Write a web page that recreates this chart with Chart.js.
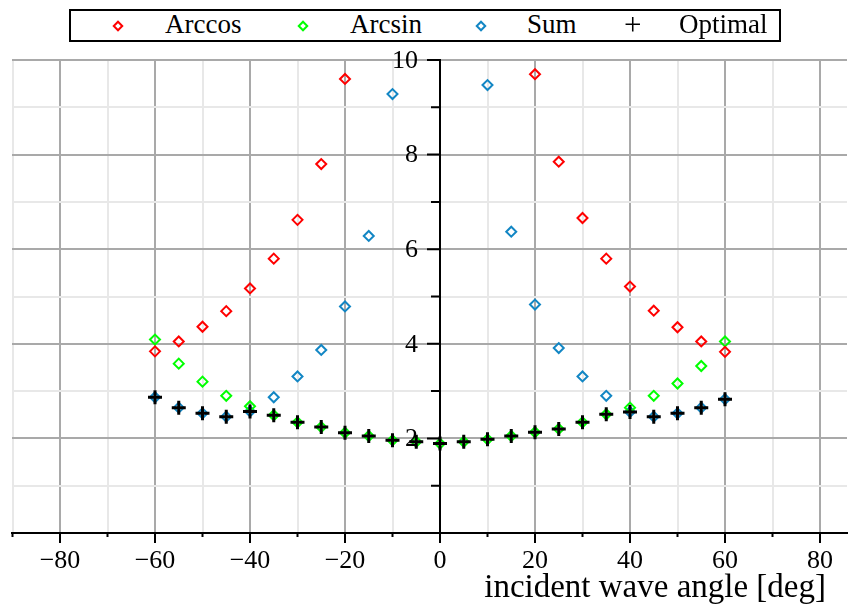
<!DOCTYPE html>
<html>
<head>
<meta charset="utf-8">
<script src="https://cdn.jsdelivr.net/npm/chart.js@4.4.0/dist/chart.umd.min.js"></script>
<style>
	body { margin: 0; background: #fff; }
	#wrap { position: relative; width: 857px; height: 606px; font-family: "Liberation Serif", serif; }
	#grafico { position: absolute; left: 0; top: 0; }
	.leyenda { position: absolute; left: 69px; top: 9px; width: 712px; height: 33px; box-sizing: border-box; border: 2px solid #000; background: #fff; }
	.item { position: absolute; top: 11px; font-size: 27px; line-height: 27px; color: #000; white-space: nowrap; }
	.rombo { position: absolute; width: 4px; height: 4px; border: 2px solid; transform: rotate(45deg); }
</style>
</head>
<body>
<div id="wrap">
	<canvas id="grafico" width="857" height="606"></canvas>
	<div class="leyenda"></div>
	<span class="rombo" style="left:114px; top:22px; border-color:#ff0000"></span>
	<span class="item" style="left:165px">Arccos</span>
	<span class="rombo" style="left:299px; top:22px; border-color:#00ff00"></span>
	<span class="item" style="left:350px">Arcsin</span>
	<span class="rombo" style="left:477px; top:22px; border-color:#1286c4"></span>
	<span class="item" style="left:527px">Sum</span>
	<span class="item" style="left:624px; top:9px; font-size:31px; line-height:31px">+</span>
	<span class="item" style="left:679px">Optimal</span>
</div>
<script>
// angles in degrees, one sample every 5
const angulos = [-60, -55, -50, -45, -40, -35, -30, -25, -20, -15, -10, -5, 0, 5, 10, 15, 20, 25, 30, 35, 40, 45, 50, 55, 60];

const arccos = [3.84, 4.05, 4.36, 4.69, 5.17, 5.80, 6.62, 7.80, 9.60, null, null, null, null, null, null, null, 9.70, 7.85, 6.66, 5.80, 5.21, 4.70, 4.35, 4.05, 3.83];
const arcsin = [4.09, 3.58, 3.20, 2.90, 2.68, 2.49, 2.34, 2.24, 2.12, 2.05, 1.96, 1.93, 1.89, 1.93, 1.98, 2.05, 2.13, 2.20, 2.34, 2.51, 2.65, 2.90, 3.16, 3.53, 4.05];
const suma = [2.87, 2.65, 2.53, 2.46, 2.57, 2.87, 3.31, 3.87, 4.79, 6.28, 9.28, null, null, null, 9.47, 6.37, 4.83, 3.91, 3.31, 2.90, 2.56, 2.46, 2.53, 2.65, 2.83];
const optimo = [2.87, 2.65, 2.53, 2.46, 2.57, 2.49, 2.34, 2.24, 2.12, 2.05, 1.96, 1.93, 1.89, 1.93, 1.98, 2.05, 2.13, 2.20, 2.34, 2.51, 2.56, 2.46, 2.53, 2.65, 2.83];

const etiquetaX = "incident wave angle [deg]";

// where the zero angle sits on the page and how wide one degree is
const ceroX = 440;
const pxGrado = 4.75;

function puntos(valores){
	return angulos.map((a, i) => ({x: a, y: valores[i]}));
}

function rombos(label, valores, color){
	return {
		label: label,
		data: puntos(valores),
		pointStyle: 'rectRot',
		pointRadius: 5,
		pointBorderWidth: 2,
		borderColor: color,
		backgroundColor: 'rgba(0,0,0,0)',
		showLine: false,
		order: 1
	};
}

// tick marks of two lengths, y labels beside the centred axis, axis title
const marcas = {
	id: 'marcas',
	afterDraw(chart){
		const ctx = chart.ctx;
		const x = chart.scales.x;
		const y = chart.scales.y;
		const x0 = x.getPixelForValue(0);
		const base = chart.chartArea.bottom;
		ctx.save();
		ctx.strokeStyle = '#000';
		ctx.lineWidth = 2;
		ctx.beginPath();
		y.ticks.forEach(t => {
			if (t.value <= 0) return;
			const py = y.getPixelForValue(t.value);
			const largo = (t.value % 2 === 0) ? 13 : 9;
			ctx.moveTo(x0 - largo, py);
			ctx.lineTo(x0, py);
		});
		x.ticks.forEach(t => {
			const px = x.getPixelForValue(t.value);
			const largo = (t.value % 20 === 0) ? 10 : 4;
			ctx.moveTo(px, base);
			ctx.lineTo(px, base + largo);
		});
		ctx.stroke();

		ctx.fillStyle = '#000';
		ctx.font = '26px "Liberation Serif"';
		ctx.textAlign = 'right';
		ctx.textBaseline = 'middle';
		y.ticks.forEach(t => {
			if (t.value <= 0 || t.value % 2 !== 0) return;
			ctx.fillText(String(t.value), x0 - 22, y.getPixelForValue(t.value) + 1);
		});

		ctx.font = '33px "Liberation Serif"';
		ctx.textBaseline = 'alphabetic';
		ctx.fillText(etiquetaX, 826, 597);
		ctx.restore();
	}
};

Chart.defaults.font.family = '"Liberation Serif", serif';
Chart.defaults.color = '#000';

const grafico = new Chart(document.getElementById('grafico'), {
	type: 'scatter',
	data: {
		datasets: [
			rombos('Arccos', arccos, '#ff0000'),
			rombos('Arcsin', arcsin, '#00ff00'),
			rombos('Sum', suma, '#1286c4'),
			{
				label: 'Optimal',
				data: puntos(optimo),
				pointStyle: 'cross',
				pointRadius: 7,
				pointBorderWidth: 3,
				borderColor: '#000',
				backgroundColor: '#000',
				showLine: false,
				order: 0
			}
		]
	},
	options: {
		responsive: false,
		animation: false,
		layout: { padding: { left: 12, top: 60, right: -10, bottom: 0 } },
		plugins: {
			legend: { display: false },
			tooltip: { enabled: false }
		},
		scales: {
			x: {
				type: 'linear',
				min: -90,
				max: 87.7,
				afterBuildTicks: (scale) => {
					scale.ticks = scale.ticks.filter(t => Math.abs(t.value % 10) < 1e-6);
				},
				afterFit: (scale) => {
					scale.height = 73;
					scale.paddingLeft = 0;
					scale.paddingRight = 0;
				},
				ticks: {
					stepSize: 10,
					includeBounds: false,
					autoSkip: false,
					maxRotation: 0,
					padding: 13,
					font: { size: 26 },
					callback: (v) => {
						if (v % 20 !== 0) return '';
						return v < 0 ? '\u2212' + Math.abs(v) : String(v);
					}
				},
				grid: {
					drawTicks: false,
					lineWidth: 2,
					color: (c) => (c.tick && c.tick.value % 20 === 0) ? '#a9a9a9' : '#e8e8e8'
				},
				border: { color: '#000', width: 2 }
			},
			y: {
				min: 0,
				max: 10,
				position: { x: 0 },
				ticks: {
					stepSize: 1,
					display: false
				},
				grid: {
					drawTicks: false,
					lineWidth: 2,
					color: (c) => (c.tick && c.tick.value % 2 === 0) ? '#a9a9a9' : '#e8e8e8'
				},
				border: { color: '#000', width: 2 }
			}
		}
	},
	plugins: [marcas]
});

// fit the angle range to the plot area so that 0 deg lands at ceroX
const area = grafico.chartArea;
grafico.options.scales.x.min = Math.min(-90, (area.left - ceroX) / pxGrado);
grafico.options.scales.x.max = (area.right - ceroX) / pxGrado;
grafico.update();
</script>
</body>
</html>
